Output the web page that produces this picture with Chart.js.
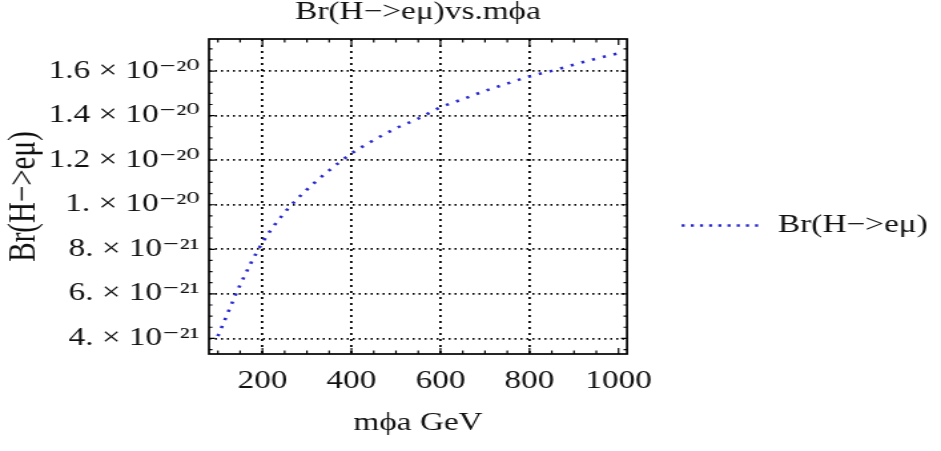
<!DOCTYPE html>
<html>
<head>
<meta charset="utf-8">
<script src="https://cdn.jsdelivr.net/npm/chart.js@4.4.0/dist/chart.umd.min.js"></script>
<style>
    html, body { margin: 0; padding: 0; background: #fff; overflow: hidden; }
</style>
</head>
<body>
<!-- the picture is wider than tall compared to the plot, so it is drawn narrow and stretched -->
<canvas id="brChart" width="707" height="451" style="display:block;width:941px;height:451px"></canvas>
<script>
const massValues = [100, 150, 200, 250, 300, 350, 400, 450, 500, 550, 600, 650, 700, 750, 800, 850, 900, 950, 1000];
const brValues = [4.1e-21, 6.4e-21, 8.3e-21, 9.65e-21, 1.068e-20, 1.154e-20, 1.23e-20, 1.29e-20, 1.343e-20, 1.387e-20,
    1.437e-20, 1.474e-20, 1.511e-20, 1.544e-20, 1.576e-20, 1.601e-20, 1.629e-20, 1.656e-20, 1.68e-20];

const xTickValues = [200, 400, 600, 800, 1000];
const xTickLabels = ['200', '400', '600', '800', '1000'];
const xGridValues = [200, 400, 600, 800];
const xMinorTicks = [100, 150, 250, 300, 350, 450, 500, 550, 650, 700, 750, 850, 900, 950];

const yTickValues = [4e-21, 6e-21, 8e-21, 1e-20, 1.2e-20, 1.4e-20, 1.6e-20];
const yTickLabels = ['4. × 10⁻²¹', '6. × 10⁻²¹', '8. × 10⁻²¹', '1. × 10⁻²⁰', '1.2 × 10⁻²⁰', '1.4 × 10⁻²⁰', '1.6 × 10⁻²⁰'];
const yMinorTicks = [3.5e-21, 4.5e-21, 5e-21, 5.5e-21, 6.5e-21, 7e-21, 7.5e-21, 8.5e-21, 9e-21, 9.5e-21,
    1.05e-20, 1.1e-20, 1.15e-20, 1.25e-20, 1.3e-20, 1.35e-20, 1.45e-20, 1.5e-20, 1.55e-20, 1.65e-20, 1.7e-20];

const serif = "'Liberation Serif', 'DejaVu Serif', serif";
Chart.defaults.font.family = serif;
Chart.defaults.color = '#111';

// frame round the plot with inward tick marks on all four sides
const framePlugin = {
    id: 'frame',
    afterDatasetsDraw(chart) {
        const { ctx, chartArea: a, scales: { x, y } } = chart;
        ctx.save();
        ctx.strokeStyle = '#000';
        ctx.lineWidth = 1.7;
        ctx.strokeRect(a.left, a.top, a.right - a.left, a.bottom - a.top);

        ctx.lineWidth = 1.2;
        ctx.beginPath();
        const markX = (values, len) => values.forEach(v => {
            const px = x.getPixelForValue(v);
            ctx.moveTo(px, a.bottom); ctx.lineTo(px, a.bottom - len);
            ctx.moveTo(px, a.top); ctx.lineTo(px, a.top + len);
        });
        const markY = (values, len) => values.forEach(v => {
            const py = y.getPixelForValue(v);
            ctx.moveTo(a.left, py); ctx.lineTo(a.left + len, py);
            ctx.moveTo(a.right, py); ctx.lineTo(a.right - len, py);
        });
        markX(xTickValues, 6);
        markX(xMinorTicks, 3.5);
        markY(yTickValues, 4.5);
        markY(yMinorTicks, 2.6);
        ctx.stroke();
        ctx.restore();
    }
};

new Chart(document.getElementById('brChart'), {
    type: 'line',
    data: {
        datasets: [{
            label: 'Br(H−>eμ)',
            data: massValues.map((m, i) => ({ x: m, y: brValues[i] })),
            borderColor: '#2828d0',
            borderWidth: 2.6,
            borderDash: [2.3, 6.2],
            pointRadius: 0,
            cubicInterpolationMode: 'monotone',
            fill: false
        }]
    },
    options: {
        responsive: false,
        animation: false,
        devicePixelRatio: 1,
        layout: { padding: 0 },
        plugins: {
            title: {
                display: true,
                text: 'Br(H−>eμ)vs.mϕa',
                fullSize: false,
                font: { size: 25, weight: 'normal', lineHeight: 1 },
                padding: { top: 0, bottom: 14 }
            },
            legend: {
                position: 'right',
                maxWidth: 300,
                labels: {
                    usePointStyle: true,
                    pointStyle: 'line',
                    pointStyleWidth: 60,
                    padding: 41,
                    font: { size: 25 },
                    generateLabels: chart => Chart.defaults.plugins.legend.labels.generateLabels(chart)
                        .map(item => ({ ...item, lineDash: [2.3, 4.6] }))
                }
            },
            tooltip: { enabled: false }
        },
        scales: {
            x: {
                type: 'linear',
                min: 80,
                max: 1019,
                afterBuildTicks: scale => { scale.ticks = xTickValues.map(v => ({ value: v })); },
                afterFit: scale => { scale.height = 97; },
                border: { display: false, dash: [2, 4] },
                grid: {
                    drawTicks: false,
                    lineWidth: 1.8,
                    color: c => xGridValues.includes(c.tick && c.tick.value) ? '#000' : 'rgba(0,0,0,0)'
                },
                ticks: {
                    autoSkip: false,
                    maxRotation: 0,
                    padding: 12,
                    font: { size: 25 },
                    callback: (value, index) => xTickLabels[index]
                },
                title: {
                    display: true,
                    text: 'mϕa GeV',
                    font: { size: 25, lineHeight: 1 },
                    padding: { top: 0, bottom: 15 }
                }
            },
            y: {
                type: 'linear',
                min: 3.3e-21,
                max: 1.744e-20,
                afterBuildTicks: scale => { scale.ticks = yTickValues.map(v => ({ value: v })); },
                afterFit: scale => { scale.width = 157; },
                border: { display: false, dash: [1.5, 3] },
                grid: {
                    drawTicks: false,
                    lineWidth: 1.8,
                    color: '#000'
                },
                ticks: {
                    autoSkip: false,
                    padding: 7,
                    font: { size: 25 },
                    callback: (value, index) => yTickLabels[index]
                },
                title: {
                    display: true,
                    text: 'Br(H−>eμ)',
                    font: { size: 29, lineHeight: 1 },
                    padding: { top: 4, bottom: 4 }
                }
            }
        }
    },
    plugins: [framePlugin]
});
</script>
</body>
</html>
